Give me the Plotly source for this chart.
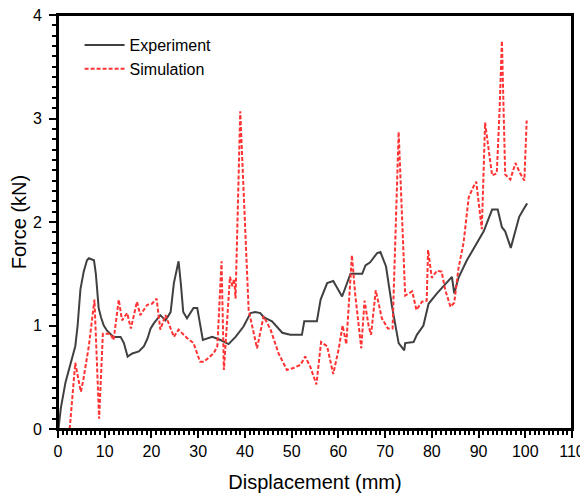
import plotly.graph_objects as go

# Experiment curve
exp_x = [0.1, 0.6, 1.6, 3.0, 3.7, 4.2, 4.8, 5.5, 6.2, 6.6, 7.7, 8.1, 8.4, 8.7, 9.2, 9.8,
         10.5, 11.2, 11.9, 13.4, 14.1, 14.9, 15.9, 17.3, 18.4, 19.2, 19.8, 20.5, 21.9,
         23.0, 24.1, 24.8, 25.8, 26.3, 26.8, 27.6, 29.0, 29.8, 31.0, 33.0, 34.8, 36.5,
         38.0, 39.7, 41.2, 42.2, 43.3, 44.0, 45.8, 48.0, 49.7, 52.2, 52.7, 55.4, 56.2,
         57.6, 58.9, 60.8, 62.6, 65.1, 65.8, 66.8, 68.3, 69.0, 70.2, 71.5, 72.9, 74.1,
         74.3, 76.1, 76.8, 78.2, 79.3, 81.1, 83.2, 84.3, 84.8, 85.7, 87.5, 89.7, 91.1,
         92.9, 94.1, 95.0, 95.7, 96.9, 98.7, 99.6, 100.4]
exp_y = [0.0, 0.2, 0.45, 0.67, 0.80, 1.0, 1.35, 1.52, 1.63, 1.65, 1.63, 1.50, 1.30, 1.17,
         1.08, 1.00, 0.95, 0.92, 0.89, 0.89, 0.83, 0.70, 0.73, 0.75, 0.80, 0.88, 0.97,
         1.02, 1.10, 1.05, 1.13, 1.41, 1.62, 1.40, 1.13, 1.07, 1.17, 1.17, 0.86, 0.89,
         0.86, 0.82, 0.89, 0.99, 1.12, 1.13, 1.12, 1.08, 1.04, 0.93, 0.91, 0.91, 1.04,
         1.04, 1.25, 1.41, 1.43, 1.28, 1.50, 1.50, 1.58, 1.61, 1.70, 1.71, 1.57, 1.18,
         0.83, 0.76, 0.83, 0.84, 0.91, 1.00, 1.21, 1.31, 1.41, 1.47, 1.31, 1.46, 1.63,
         1.81, 1.91, 2.12, 2.12, 1.95, 1.91, 1.75, 2.05, 2.12, 2.18]

# Simulation curve
sim_x = [2.5, 3.7, 4.4, 4.9, 5.4, 6.6, 7.8, 8.8, 9.6, 11.2, 11.9, 13.0, 13.7, 14.8, 15.6,
         16.9, 17.6, 19.1, 20.1, 21.1, 21.9, 23.0, 24.8, 25.8, 27.6, 29.0, 30.4, 31.2,
         33.3, 34.1, 35.0, 35.5, 36.8, 37.3, 37.7, 38.0, 39.0, 40.5, 40.8, 42.6, 44.0,
         45.5, 47.2, 49.0, 50.4, 51.9, 52.9, 54.0, 55.3, 56.3, 57.6, 58.9, 60.1, 60.9,
         61.7, 62.9, 63.6, 64.9, 65.6, 66.5, 67.0, 68.0, 69.3, 70.6, 71.6, 72.9, 74.0,
         74.3, 75.8, 76.7, 77.9, 78.9, 79.2, 80.0, 81.1, 82.1, 82.9, 84.0, 84.8, 85.7,
         86.8, 87.9, 88.9, 89.5, 90.7, 91.4, 92.9, 93.9, 94.5, 95.0, 95.7, 96.8, 97.9,
         98.9, 99.8, 100.3]
sim_y = [0.0, 0.64, 0.47, 0.36, 0.47, 0.80, 1.25, 0.10, 0.92, 0.92, 0.86, 1.25, 1.05, 1.12,
         0.97, 1.23, 1.10, 1.20, 1.21, 1.26, 0.96, 1.10, 0.89, 0.96, 0.88, 0.83, 0.65,
         0.65, 0.73, 0.80, 1.62, 0.57, 1.47, 1.38, 1.45, 1.26, 3.07, 1.47, 1.15, 0.78,
         1.09, 0.96, 0.73, 0.57, 0.59, 0.62, 0.70, 0.60, 0.43, 0.84, 0.80, 0.53, 0.78,
         1.00, 0.82, 1.68, 1.30, 0.78, 1.24, 0.99, 0.91, 1.34, 1.07, 0.97, 0.97, 2.87,
         1.57, 1.29, 1.33, 1.15, 1.23, 1.24, 1.73, 1.46, 1.53, 1.52, 1.34, 1.18, 1.22,
         1.55, 1.80, 2.24, 2.34, 2.39, 1.93, 2.96, 2.45, 2.47, 3.08, 3.75, 2.46, 2.41,
         2.57, 2.47, 2.40, 2.98]

x_ticks = [0, 10, 20, 30, 40, 50, 60, 70, 80, 90, 100, 110]
y_ticks = [0, 1, 2, 3, 4]

FONT = "Liberation Sans, Arial, sans-serif"

fig = go.Figure()
fig.add_trace(go.Scatter(x=exp_x, y=exp_y, mode="lines", name="Experiment",
                         line=dict(color="#404040", width=2)))
fig.add_trace(go.Scatter(x=sim_x, y=sim_y, mode="lines", name="Simulation",
                         line=dict(color="#ff3333", width=2, dash="4px,2px")))

axis_common = dict(showline=True, linewidth=2, linecolor="black", mirror=True,
                   ticks="outside", tickwidth=2, ticklen=7, tickcolor="black",
                   showgrid=False, zeroline=False, automargin=False,
                   ticklabeloverflow="allow",
                   tickfont=dict(family=FONT, size=16, color="black"))

fig.update_xaxes(range=[0, 110], tickmode="array", tickvals=x_ticks,
                 title=dict(text="Displacement (mm)", font=dict(family=FONT, size=20, color="black"),
                            standoff=16),
                 minor=dict(ticks="outside", dtick=1, ticklen=4, tickwidth=1.5, tickcolor="black"),
                 **axis_common)
fig.update_yaxes(range=[0, 4], tickmode="array", tickvals=y_ticks, ticklabelstandoff=4,
                 title=dict(text="Force (kN)", font=dict(family=FONT, size=20, color="black"),
                            standoff=7),
                 minor=dict(ticks="outside", dtick=0.1, ticklen=4, tickwidth=1.5, tickcolor="black"),
                 **axis_common)

# plot frame
fig.add_shape(type="rect", xref="paper", yref="paper", x0=0, y0=0, x1=1, y1=1,
              line=dict(color="black", width=2), layer="above")

fig.update_layout(
    width=580, height=489,
    margin=dict(l=50, r=16, t=7, b=68, autoexpand=False),
    paper_bgcolor="white", plot_bgcolor="white",
    font=dict(family=FONT, color="black"),
    legend=dict(x=0.042, y=0.9686, xanchor="left", yanchor="top", itemwidth=40,
                font=dict(family=FONT, size=16, color="black"),
                bgcolor="rgba(0,0,0,0)", borderwidth=0),
    showlegend=True,
)

fig.write_html("out.html")
